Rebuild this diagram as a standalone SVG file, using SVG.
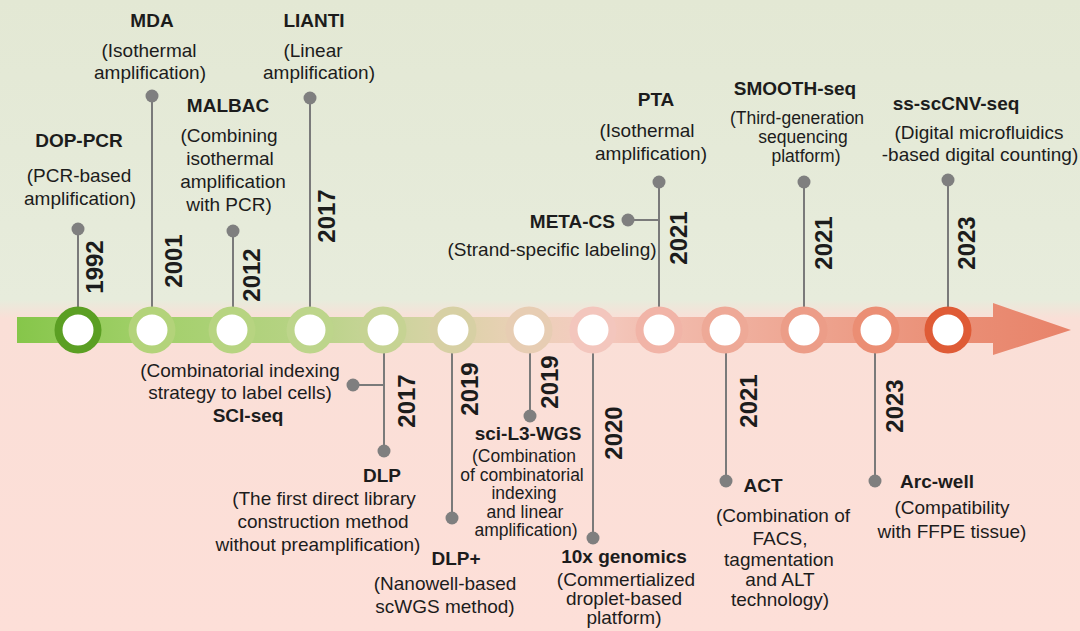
<svg xmlns="http://www.w3.org/2000/svg" width="1080" height="631" viewBox="0 0 1080 631">
<defs>
<linearGradient id="bg" x1="0" y1="0" x2="0" y2="631" gradientUnits="userSpaceOnUse">
<stop offset="0" stop-color="#e3e8d4"/>
<stop offset="0.475" stop-color="#e7ecdc"/>
<stop offset="0.505" stop-color="#fadfd7"/>
<stop offset="1" stop-color="#fddfd8"/>
</linearGradient>
<linearGradient id="bar" x1="17" y1="0" x2="1071" y2="0" gradientUnits="userSpaceOnUse">
<stop offset="0" stop-color="#86c64a"/>
<stop offset="0.126" stop-color="#a2d06a"/>
<stop offset="0.278" stop-color="#b8d386"/>
<stop offset="0.347" stop-color="#c9d49a"/>
<stop offset="0.414" stop-color="#dcd2a8"/>
<stop offset="0.486" stop-color="#ecd0b8"/>
<stop offset="0.546" stop-color="#f4cbc0"/>
<stop offset="0.609" stop-color="#f2bcae"/>
<stop offset="0.747" stop-color="#eea591"/>
<stop offset="0.883" stop-color="#ea8f76"/>
<stop offset="1" stop-color="#e8836a"/>
</linearGradient>
<style>
text{font-family:"Liberation Sans",Arial,sans-serif;fill:#1c1c1c;text-anchor:middle}
.t{font-size:19px;font-weight:bold}
.d{font-size:19px}
.s{font-size:17.5px}
.y{font-size:24px;font-weight:bold}
.stem{stroke:#7a7a7a;stroke-width:2;fill:none}
.dot{fill:#7f7f7f}
.ring{fill:#ffffff;stroke-width:8}
</style>
</defs>
<rect x="0" y="0" width="1080" height="631" fill="url(#bg)"/>
<path id="timeline-arrow" d="M17,317 H993 V303 L1071,330 L993,355 V343 H17 Z" fill="url(#bar)"/>
<g id="connectors">
<line class="stem" x1="78" y1="229" x2="78" y2="330"/>
<line class="stem" x1="152" y1="96" x2="152" y2="330"/>
<line class="stem" x1="233" y1="231" x2="233" y2="330"/>
<line class="stem" x1="310" y1="98" x2="310" y2="330"/>
<line class="stem" x1="659" y1="182" x2="659" y2="330"/>
<line class="stem" x1="628" y1="220" x2="659" y2="220"/>
<line class="stem" x1="804" y1="182" x2="804" y2="330"/>
<line class="stem" x1="948" y1="180" x2="948" y2="330"/>
<line class="stem" x1="384" y1="330" x2="384" y2="451"/>
<line class="stem" x1="353" y1="385" x2="384" y2="385"/>
<line class="stem" x1="452" y1="330" x2="452" y2="518"/>
<line class="stem" x1="530" y1="330" x2="530" y2="416"/>
<line class="stem" x1="593" y1="330" x2="593" y2="538"/>
<line class="stem" x1="726" y1="330" x2="726" y2="481"/>
<line class="stem" x1="875" y1="330" x2="875" y2="481"/>
</g>
<g id="timeline-circles">
<circle class="ring" cx="78" cy="330" r="19.5" stroke="#5b9f23"/>
<circle class="ring" cx="152" cy="330" r="19.5" stroke="#b3d37a"/>
<circle class="ring" cx="232" cy="330" r="19.5" stroke="#b7d481"/>
<circle class="ring" cx="310" cy="330" r="19.5" stroke="#bdd58b"/>
<circle class="ring" cx="383" cy="330" r="19.5" stroke="#c6d393"/>
<circle class="ring" cx="453" cy="330" r="19.5" stroke="#d7d0a4"/>
<circle class="ring" cx="529" cy="330" r="19.5" stroke="#e7cdb3"/>
<circle class="ring" cx="593" cy="330" r="19.5" stroke="#f3c6bd"/>
<circle class="ring" cx="659" cy="330" r="19.5" stroke="#f1b4a7"/>
<circle class="ring" cx="725" cy="330" r="19.5" stroke="#eea997"/>
<circle class="ring" cx="804" cy="330" r="19.5" stroke="#ec9d88"/>
<circle class="ring" cx="876" cy="330" r="19.5" stroke="#eb8e74"/>
<circle class="ring" cx="948" cy="330" r="19.5" stroke="#df5b36"/>
</g>
<g id="node-dop-pcr">
<circle class="dot" cx="78" cy="229" r="6.5"/>
<text class="y" transform="translate(103,267) rotate(-90)">1992</text>
<text class="t" x="79" y="147">DOP-PCR</text>
<text class="d" x="79" y="182">(PCR-based</text>
<text class="d" x="80" y="205">amplification)</text>
</g>
<g id="node-mda">
<circle class="dot" cx="152" cy="96" r="6.5"/>
<text class="y" transform="translate(182,261) rotate(-90)">2001</text>
<text class="t" x="152" y="27">MDA</text>
<text class="d" x="149" y="57">(Isothermal</text>
<text class="d" x="150" y="79">amplification)</text>
</g>
<g id="node-malbac">
<circle class="dot" cx="233" cy="231" r="6.5"/>
<text class="y" transform="translate(260,275) rotate(-90)">2012</text>
<text class="t" x="228" y="112">MALBAC</text>
<text class="d" x="229" y="142">(Combining</text>
<text class="d" x="230" y="165">isothermal</text>
<text class="d" x="233" y="188">amplification</text>
<text class="d" x="229" y="211">with PCR)</text>
</g>
<g id="node-lianti">
<circle class="dot" cx="310" cy="98" r="6.5"/>
<text class="y" transform="translate(335,216) rotate(-90)">2017</text>
<text class="t" x="314" y="27">LIANTI</text>
<text class="d" x="313" y="57">(Linear</text>
<text class="d" x="319" y="79">amplification)</text>
</g>
<g id="node-pta">
<circle class="dot" cx="659" cy="182" r="6.5"/>
<text class="y" transform="translate(687,238) rotate(-90)">2021</text>
<text class="t" x="656" y="106">PTA</text>
<text class="d" x="647" y="137">(Isothermal</text>
<text class="d" x="651" y="160">amplification)</text>
</g>
<g id="node-meta-cs">
<circle class="dot" cx="628" cy="220" r="6.5"/>
<text class="t" x="615" y="228" style="text-anchor:end">META-CS</text>
<text class="d" x="552" y="256">(Strand-specific labeling)</text>
</g>
<g id="node-smooth-seq">
<circle class="dot" cx="804" cy="182" r="6.5"/>
<text class="y" transform="translate(832,243) rotate(-90)">2021</text>
<text class="t" x="795" y="95">SMOOTH-seq</text>
<text class="d s" x="797" y="124">(Third-generation</text>
<text class="d s" x="803" y="143">sequencing</text>
<text class="d s" x="806" y="162">platform)</text>
</g>
<g id="node-ss-sccnv-seq">
<circle class="dot" cx="948" cy="180" r="6.5"/>
<text class="y" transform="translate(975,243) rotate(-90)">2023</text>
<text class="t" x="956" y="110">ss-scCNV-seq</text>
<text class="d" x="979" y="139">(Digital microfluidics</text>
<text class="d" x="980" y="161">-based digital counting)</text>
</g>
<g id="node-sci-seq">
<circle class="dot" cx="353" cy="385" r="6.5"/>
<text class="d" x="240" y="377">(Combinatorial indexing</text>
<text class="d" x="240" y="399">strategy to label cells)</text>
<text class="t" x="248" y="422">SCI-seq</text>
</g>
<g id="node-dlp">
<circle class="dot" cx="384" cy="451" r="6.5"/>
<text class="y" transform="translate(415,401) rotate(-90)">2017</text>
<text class="t" x="382" y="482">DLP</text>
<text class="d" x="324" y="505">(The first direct library</text>
<text class="d" x="323" y="528">construction method</text>
<text class="d" x="318" y="551">without preamplification)</text>
</g>
<g id="node-dlp-plus">
<circle class="dot" cx="452" cy="518" r="6.5"/>
<text class="y" transform="translate(478,389) rotate(-90)">2019</text>
<text class="t" x="456" y="565">DLP+</text>
<text class="d" x="445" y="590">(Nanowell-based</text>
<text class="d" x="445" y="613">scWGS method)</text>
</g>
<g id="node-sci-l3-wgs">
<circle class="dot" cx="530" cy="416" r="6.5"/>
<text class="y" transform="translate(558,382) rotate(-90)">2019</text>
<text class="t" x="528" y="440">sci-L3-WGS</text>
<text class="d s" x="524" y="462">(Combination</text>
<text class="d s" x="522" y="481">of combinatorial</text>
<text class="d s" x="524" y="499">indexing</text>
<text class="d s" x="525" y="518">and linear</text>
<text class="d s" x="526" y="536">amplification)</text>
</g>
<g id="node-10x-genomics">
<circle class="dot" cx="593" cy="538" r="6.5"/>
<text class="y" transform="translate(622,433) rotate(-90)">2020</text>
<text class="t" x="624" y="563">10x genomics</text>
<text class="d" x="626" y="586">(Commertialized</text>
<text class="d" x="624" y="605">droplet-based</text>
<text class="d" x="624" y="624">platform)</text>
</g>
<g id="node-act">
<circle class="dot" cx="726" cy="481" r="6.5"/>
<text class="y" transform="translate(757,401) rotate(-90)">2021</text>
<text class="t" x="763" y="492">ACT</text>
<text class="d" x="783" y="522">(Combination of</text>
<text class="d" x="780" y="545">FACS,</text>
<text class="d" x="779" y="566">tagmentation</text>
<text class="d" x="780" y="586">and ALT</text>
<text class="d" x="780" y="606">technology)</text>
</g>
<g id="node-arc-well">
<circle class="dot" cx="875" cy="481" r="6.5"/>
<text class="y" transform="translate(903,406) rotate(-90)">2023</text>
<text class="t" x="937" y="488">Arc-well</text>
<text class="d" x="952" y="514">(Compatibility</text>
<text class="d" x="952" y="538">with FFPE tissue)</text>
</g>
</svg>
